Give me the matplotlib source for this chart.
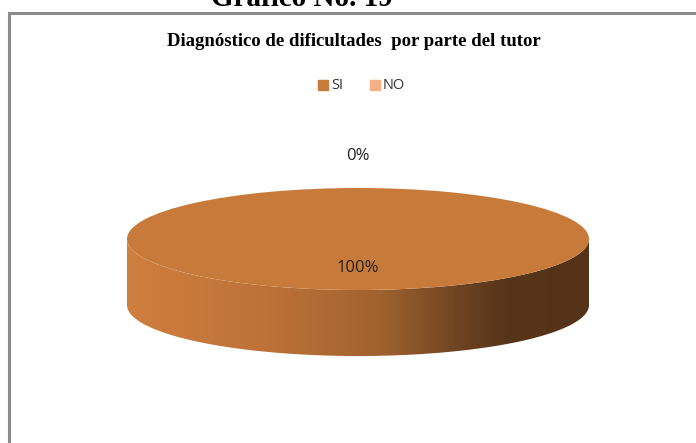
import numpy as np
import matplotlib.pyplot as plt
from matplotlib.patches import Wedge, Polygon
from matplotlib.transforms import Affine2D
from matplotlib.colors import LinearSegmentedColormap

labels = ['SI', 'NO']
values = [100, 0]
colors = ['#C87A3A', '#F4B183']
pct_labels = ['100%', '0%']

W, H = 696, 443
fig = plt.figure(figsize=(W / 100, H / 100), dpi=100)
ax = fig.add_axes([0, 0, 1, 1])
ax.set_xlim(0, W)
ax.set_ylim(0, H)
ax.axis('off')

# frame of the chart area (only top and left show)
ax.plot([9, 9, W + 5], [-5, H - 13, H - 13], color='#8c8c8c', lw=2.2,
        solid_joinstyle='miter', zorder=1)

fig.text(302 / W, 1 - 6 / H, 'Gráfico No. 19', ha='center', va='baseline',
         family='Liberation Serif', weight='bold', fontsize=21)
ax.text(354, H - 41, 'Diagnóstico de dificultades  por parte del tutor',
        ha='center', va='center', family='Liberation Serif', weight='bold',
        fontsize=13.5)

# pie geometry
cx, cy = 358, H - 239
rx, ry = 231, 51
depth = 66
ellipse = Affine2D().scale(rx, ry).translate(cx, cy) + ax.transData

total = float(sum(values))
angles = 90 - np.concatenate([[0], np.cumsum(values)]) / total * 360

# side wall of the front half, shaded left to right
t = np.linspace(np.pi, 2 * np.pi, 200)
top_edge = np.column_stack([cx + rx * np.cos(t), cy + ry * np.sin(t)])
bot_edge = top_edge[::-1] - [0, depth]
side = Polygon(np.vstack([top_edge, bot_edge]), closed=True,
               facecolor='none', edgecolor='none')
ax.add_patch(side)
side_cmap = LinearSegmentedColormap.from_list('side', [
    (0.0, '#CF7F3E'), (0.3, '#BE7238'), (0.55, '#A0622F'),
    (0.72, '#6E4322'), (0.82, '#573519'), (1.0, '#553318')])
grad = np.linspace(0, 1, 400)[None, :]
img = ax.imshow(grad, cmap=side_cmap, aspect='auto',
                extent=(cx - rx, cx + rx, cy - ry - depth, cy), zorder=2)
img.set_clip_path(side)

# top face from the slice values
for i, v in enumerate(values):
    if v == 0:
        continue
    w = Wedge((0, 0), 1, angles[i + 1], angles[i], facecolor=colors[i],
              edgecolor='none', transform=ellipse, zorder=3)
    ax.add_patch(w)

# percentage labels
for i, v in enumerate(values):
    mid = np.deg2rad((angles[i] + angles[i + 1]) / 2)
    r = 0.57 if v > 0 else 1.62
    x = cx + r * rx * np.cos(mid)
    y = cy + r * ry * np.sin(mid)
    ax.text(x, y, pct_labels[i], ha='center', va='center',
            family='Open Sans', fontsize=12, color='#222222', zorder=4)

# legend
lx = [323, 375]
for i, lab in enumerate(labels):
    ax.scatter(lx[i], H - 85, marker='s', s=45, color=colors[i], zorder=4)
    ax.text(lx[i] + 8, H - 85, lab, ha='left', va='center',
            family='Open Sans', fontsize=10.5, color='#333333')

fig.savefig('out.png', dpi=100)
